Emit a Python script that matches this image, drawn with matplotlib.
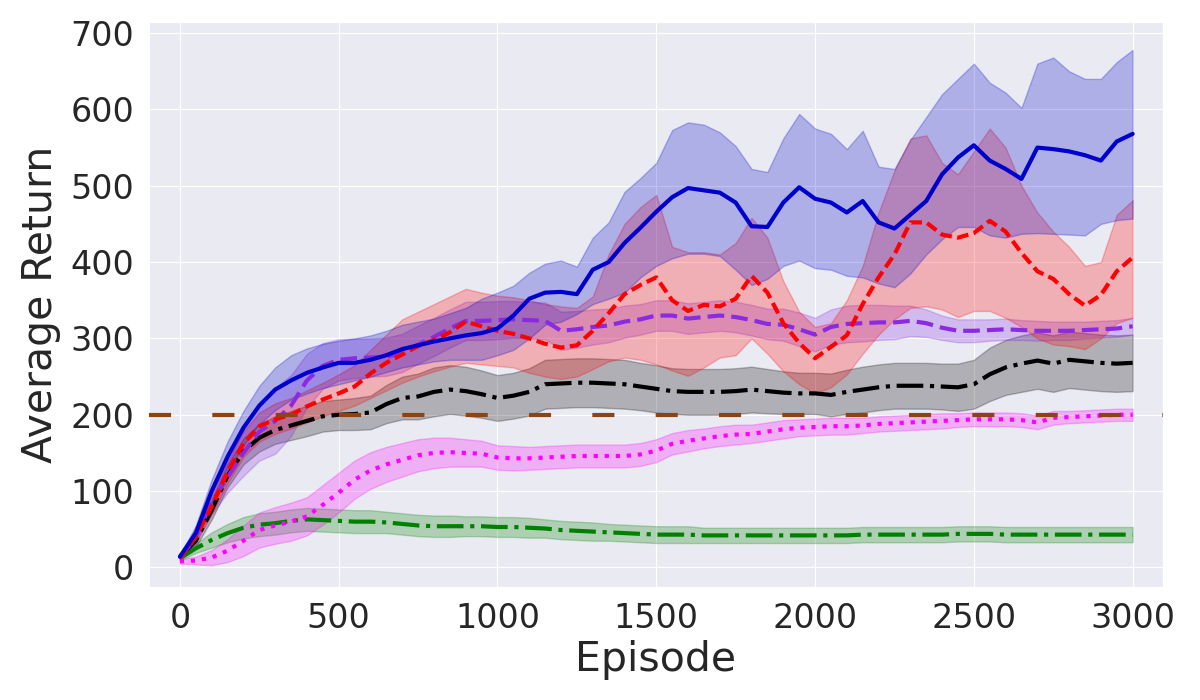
import numpy as np
import matplotlib
matplotlib.use("Agg")
import matplotlib.pyplot as plt
import seaborn as sns

episodes = list(range(0, 3001, 50))

blue_mean = [14, 45, 100, 145, 183, 212, 233, 245, 255, 262,
             268, 268, 272, 278, 286, 291, 296, 300, 304, 307,
             313, 330, 352, 360, 361, 358, 390, 400, 425, 445,
             466, 485, 497, 494, 491, 478, 447, 446, 478, 498,
             483, 478, 465, 480, 452, 444, 462, 480, 515, 537,
             553, 533, 522, 509, 550, 548, 545, 540, 533, 558,
             568]
blue_upper = [16, 55, 115, 165, 205, 238, 262, 278, 287, 293,
              297, 300, 304, 310, 318, 322, 326, 333, 340, 352,
              360, 369, 386, 398, 402, 394, 432, 452, 492, 510,
              530, 573, 583, 580, 570, 552, 522, 518, 562, 594,
              575, 568, 548, 572, 525, 522, 560, 590, 620, 640,
              660, 635, 622, 602, 660, 668, 650, 640, 640, 662,
              678]
blue_lower = [12, 38, 85, 125, 160, 188, 206, 220, 228, 235,
              240, 245, 250, 256, 262, 266, 270, 272, 272, 272,
              278, 285, 300, 318, 322, 332, 345, 352, 360, 380,
              395, 405, 411, 411, 408, 390, 370, 378, 395, 402,
              392, 390, 382, 380, 372, 367, 385, 410, 430, 446,
              446, 435, 432, 437, 438, 437, 436, 435, 450, 455,
              457]

red_mean = [12, 40, 80, 125, 162, 185, 194, 200, 211, 220,
            228, 237, 254, 268, 279, 290, 298, 308, 322, 316,
            310, 306, 300, 293, 288, 291, 310, 333, 358, 370,
            380, 350, 336, 344, 342, 352, 382, 360, 320, 294,
            274, 289, 304, 345, 380, 410, 452, 452, 436, 432,
            438, 454, 440, 412, 388, 378, 358, 343, 357, 388,
            406]
red_upper = [14, 45, 92, 140, 178, 203, 215, 222, 232, 242,
             253, 265, 285, 305, 325, 335, 345, 355, 365, 360,
             356, 354, 350, 345, 342, 340, 355, 410, 450, 472,
             488, 420, 413, 413, 410, 425, 458, 432, 375, 335,
             315, 320, 350, 395, 465, 520, 562, 566, 530, 515,
             545, 575, 550, 500, 465, 440, 420, 395, 400, 462,
             481]
red_lower = [10, 35, 70, 110, 145, 165, 175, 182, 190, 198,
             205, 212, 222, 232, 242, 250, 257, 263, 268, 266,
             264, 262, 255, 250, 247, 250, 260, 270, 275, 272,
             266, 258, 251, 262, 275, 278, 300, 280, 257, 240,
             228, 236, 253, 280, 305, 325, 340, 342, 338, 328,
             336, 336, 327, 315, 300, 292, 290, 286, 300, 320,
             327]

purple_mean = [12, 40, 85, 118, 150, 178, 192, 212, 245, 264,
               272, 274, 275, 276, 281, 292, 302, 313, 323, 323,
               324, 325, 324, 323, 310, 312, 315, 317, 322, 325,
               330, 330, 326, 328, 330, 328, 324, 319, 318, 312,
               305, 315, 319, 320, 321, 321, 323, 320, 314, 310,
               310, 311, 312, 311, 310, 310, 310, 311, 312, 313,
               316]
purple_spread = [3, 8, 15, 20, 30, 38, 43, 40, 35, 30,
                 27, 26, 25, 25, 25, 25, 25, 25, 25, 25,
                 25, 24, 24, 24, 25, 24, 23, 22, 21, 20,
                 20, 20, 20, 20, 20, 20, 20, 20, 21, 22,
                 22, 23, 24, 24, 23, 22, 20, 18, 16, 15,
                 15, 14, 14, 13, 13, 12, 12, 11, 11, 11,
                 11]

black_mean = [14, 35, 75, 120, 152, 170, 180, 186, 192, 198,
              200, 201, 203, 214, 222, 224, 230, 233, 231, 227,
              222, 225, 230, 240, 241, 242, 242, 241, 240, 237,
              234, 231, 230, 230, 230, 231, 233, 231, 229, 228,
              228, 226, 230, 233, 236, 238, 238, 238, 237, 236,
              240, 253, 262, 267, 271, 267, 272, 270, 268, 267,
              268]
black_spread = [3, 8, 12, 15, 17, 18, 18, 19, 20, 20,
                20, 21, 22, 25, 28, 30, 32, 32, 32, 31,
                30, 30, 31, 32, 32, 32, 32, 32, 32, 31,
                31, 30, 30, 30, 30, 30, 30, 29, 28, 27,
                27, 28, 29, 30, 30, 30, 30, 30, 30, 31,
                32, 35, 36, 37, 37, 37, 37, 37, 37, 37,
                37]

pink_mean = [8, 9, 13, 22, 35, 49, 55, 60, 67, 82,
             98, 115, 127, 135, 141, 147, 150, 151, 150, 149,
             144, 143, 143, 144, 145, 146, 146, 146, 146, 148,
             153, 162, 166, 169, 172, 174, 175, 178, 181, 183,
             184, 185, 185, 186, 188, 189, 190, 191, 192, 193,
             194, 194, 194, 193, 190, 196, 197, 198, 199, 200,
             200]
pink_spread = [3, 5, 10, 15, 20, 23, 24, 25, 25, 26,
               26, 25, 24, 23, 22, 21, 20, 19, 18, 17,
               16, 16, 15, 15, 15, 15, 15, 15, 15, 15,
               15, 14, 14, 13, 13, 13, 12, 12, 12, 11,
               11, 11, 11, 10, 10, 10, 10, 10, 10, 9,
               9, 9, 9, 9, 9, 9, 8, 8, 8, 8,
               8]

green_mean = [12, 25, 36, 45, 52, 56, 58, 61, 63, 62,
              61, 60, 60, 59, 57, 55, 54, 54, 54, 54,
              53, 53, 52, 51, 49, 48, 47, 46, 45, 44,
              43, 43, 43, 42, 42, 42, 42, 42, 42, 42,
              42, 42, 42, 43, 43, 43, 43, 43, 43, 44,
              44, 44, 43, 43, 43, 43, 43, 43, 43, 43,
              43]
green_spread = [3, 6, 10, 12, 14, 15, 15, 15, 15, 15,
                15, 15, 15, 14, 14, 14, 14, 14, 13, 13,
                13, 13, 13, 12, 12, 12, 12, 11, 11, 11,
                11, 11, 11, 10, 10, 10, 10, 10, 10, 10,
                10, 10, 10, 10, 10, 10, 10, 10, 10, 10,
                10, 10, 10, 10, 10, 10, 10, 10, 10, 10,
                10]

threshold = 200
x_ticks = [0, 500, 1000, 1500, 2000, 2500, 3000]
y_ticks = [0, 100, 200, 300, 400, 500, 600, 700]

sns.set_style("darkgrid")
plt.rcParams['font.family'] = ['DejaVu Sans']

fig = plt.figure(figsize=(12, 7), dpi=100)
ax = fig.add_axes([0.124, 0.161, 0.845, 0.807])

x = np.array(episodes)

def sym(mean, spread):
    m = np.array(mean, dtype=float)
    s = np.array(spread, dtype=float)
    return m - s, m + s

LW = 3.0

g_lo, g_hi = sym(green_mean, green_spread)
ax.fill_between(x, g_lo, g_hi, color='green', alpha=0.25, lw=1)
ax.plot(x, green_mean, color='green', ls='-.', lw=LW)

p_lo, p_hi = sym(pink_mean, pink_spread)
ax.fill_between(x, p_lo, p_hi, color='#FF00FF', alpha=0.25, lw=1)
ax.plot(x, pink_mean, color='#FF00FF', ls=(0, (1, 1.65)), lw=LW)

k_lo, k_hi = sym(black_mean, black_spread)
ax.fill_between(x, k_lo, k_hi, color='black', alpha=0.25, lw=1)
ax.plot(x, black_mean, color='black', ls='-.', lw=LW)

v_lo, v_hi = sym(purple_mean, purple_spread)
ax.fill_between(x, v_lo, v_hi, color='#8A2BE2', alpha=0.25, lw=1)
ax.plot(x, purple_mean, color='#8A2BE2', ls=(0, (4, 1.7)), lw=LW)

ax.fill_between(x, red_lower, red_upper, color='red', alpha=0.25, lw=1)
ax.plot(x, red_mean, color='red', ls=(0, (2.8, 1.3)), lw=LW)

ax.fill_between(x, blue_lower, blue_upper, color='#0000CD', alpha=0.25, lw=1)
ax.plot(x, blue_mean, color='#0000CD', ls='-', lw=LW)

ax.axhline(threshold, color='#8B4513', ls=(0, (5.3, 9.9)), lw=LW, zorder=5)

ax.set_xlim(-98, 3095)
ax.set_ylim(-26, 714)
ax.set_xticks(x_ticks)
ax.set_yticks(y_ticks)
ax.tick_params(labelsize=24, pad=7)
ax.set_xlabel('Episode', fontsize=29.5, labelpad=4)
ax.set_ylabel('Average Return', fontsize=29.5, labelpad=7)

fig.savefig('out.png', dpi=100)
